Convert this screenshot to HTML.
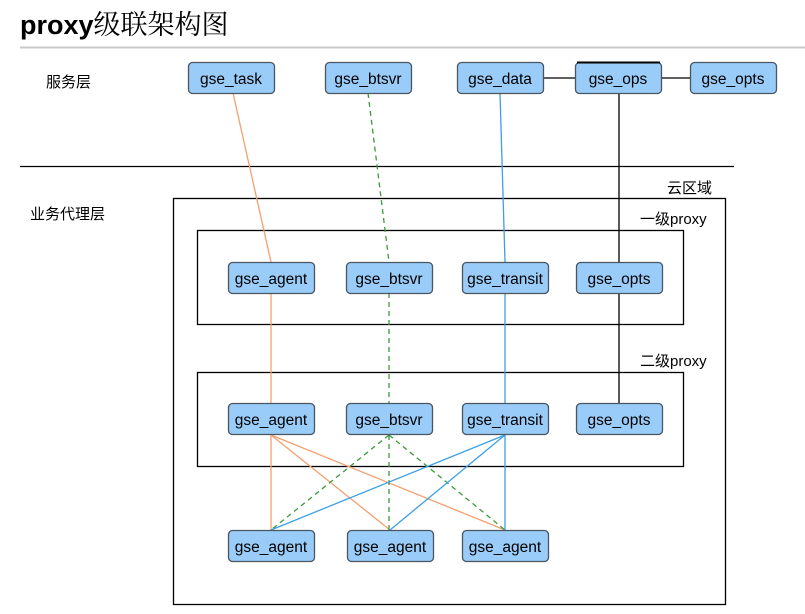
<!DOCTYPE html>
<html><head><meta charset="utf-8"><style>
body{margin:0;background:#fff;width:805px;height:614px;overflow:hidden}
</style></head><body>
<svg width="805" height="614" xmlns="http://www.w3.org/2000/svg" style="position:absolute;left:0;top:0">
<text x="20" y="34" font-family="Liberation Sans, sans-serif" font-size="27" font-weight="bold" fill="#000">proxy<tspan font-family="Noto Serif CJK SC, serif" font-weight="normal">级联架构图</tspan></text>
<line x1="20" y1="47.5" x2="805" y2="47.5" stroke="#c8c8c8" stroke-width="2"/>
<line x1="20" y1="166.5" x2="734" y2="166.5" stroke="#000" stroke-width="1.3"/>
<g font-family="Liberation Sans, Noto Sans CJK SC, sans-serif" font-size="15" fill="#000">
<text x="46" y="87">服务层</text>
<text x="30" y="219">业务代理层</text>
<text x="667" y="193">云区域</text>
<text x="640" y="224">一级proxy</text>
<text x="640" y="366">二级proxy</text>
</g>
<g fill="none" stroke="#000" stroke-width="1.3">
<rect x="173.5" y="198.5" width="552" height="406"/>
<rect x="197.5" y="230.5" width="486" height="94"/>
<rect x="197.5" y="372.5" width="486" height="94"/>
</g>
<g stroke-width="1.3" fill="none">
<line x1="233" y1="93" x2="271" y2="262" stroke="#f4a070"/>
<line x1="271" y1="293" x2="271" y2="404" stroke="#f4a070"/>
<line x1="368" y1="93" x2="389" y2="262" stroke="#3a9a3a" stroke-dasharray="5,4"/>
<line x1="389" y1="293" x2="389" y2="404" stroke="#3a9a3a" stroke-dasharray="5,4"/>
<line x1="500" y1="93" x2="505" y2="262" stroke="#3aa0e8"/>
<line x1="505" y1="293" x2="505" y2="404" stroke="#3aa0e8"/>
<line x1="619" y1="93" x2="619" y2="262" stroke="#000"/>
<line x1="619" y1="293" x2="619" y2="404" stroke="#000"/>
<line x1="543" y1="78" x2="690" y2="78" stroke="#000"/>
<path d="M271 435L271 530M271 435L390 530M271 435L505 530" stroke="#f4a070"/>
<path d="M389 435L271 530M389 435L389 530M389 435L505 530" stroke="#3a9a3a" stroke-dasharray="5,4"/>
<path d="M505 435L271 530M505 435L390 530M505 435L505 530" stroke="#3aa0e8"/>
</g>
<g fill="#99ccf8" stroke="#4a5560" stroke-width="1.3">
<rect x="188.5" y="62.5" width="86" height="31" rx="4"/>
<rect x="325.5" y="62.5" width="86" height="31" rx="4"/>
<rect x="457.5" y="62.5" width="86" height="31" rx="4"/>
<rect x="575.5" y="62.5" width="86" height="31" rx="4"/>
<rect x="690.5" y="62.5" width="86" height="31" rx="4"/>
<rect x="228.5" y="262.5" width="86" height="31" rx="4"/>
<rect x="346.5" y="262.5" width="86" height="31" rx="4"/>
<rect x="462.5" y="262.5" width="86" height="31" rx="4"/>
<rect x="576.5" y="262.5" width="86" height="31" rx="4"/>
<rect x="228.5" y="403.5" width="86" height="31" rx="4"/>
<rect x="346.5" y="403.5" width="86" height="31" rx="4"/>
<rect x="462.5" y="403.5" width="86" height="31" rx="4"/>
<rect x="576.5" y="403.5" width="86" height="31" rx="4"/>
<rect x="228.5" y="530.5" width="86" height="31" rx="4"/>
<rect x="347.5" y="530.5" width="86" height="31" rx="4"/>
<rect x="462.5" y="530.5" width="86" height="31" rx="4"/>
</g>
<line x1="577" y1="62.5" x2="660" y2="62.5" stroke="#000" stroke-width="2"/>
<g font-family="Liberation Sans, sans-serif" font-size="15.5" fill="#000" text-anchor="middle">
<text x="231" y="84">gse_task</text>
<text x="368" y="84">gse_btsvr</text>
<text x="500" y="84">gse_data</text>
<text x="618" y="84">gse_ops</text>
<text x="733" y="84">gse_opts</text>
<text x="271" y="284">gse_agent</text>
<text x="389" y="284">gse_btsvr</text>
<text x="505" y="284">gse_transit</text>
<text x="619" y="284">gse_opts</text>
<text x="271" y="425">gse_agent</text>
<text x="389" y="425">gse_btsvr</text>
<text x="505" y="425">gse_transit</text>
<text x="619" y="425">gse_opts</text>
<text x="271" y="552">gse_agent</text>
<text x="390" y="552">gse_agent</text>
<text x="505" y="552">gse_agent</text>
</g>
</svg>
</body></html>
